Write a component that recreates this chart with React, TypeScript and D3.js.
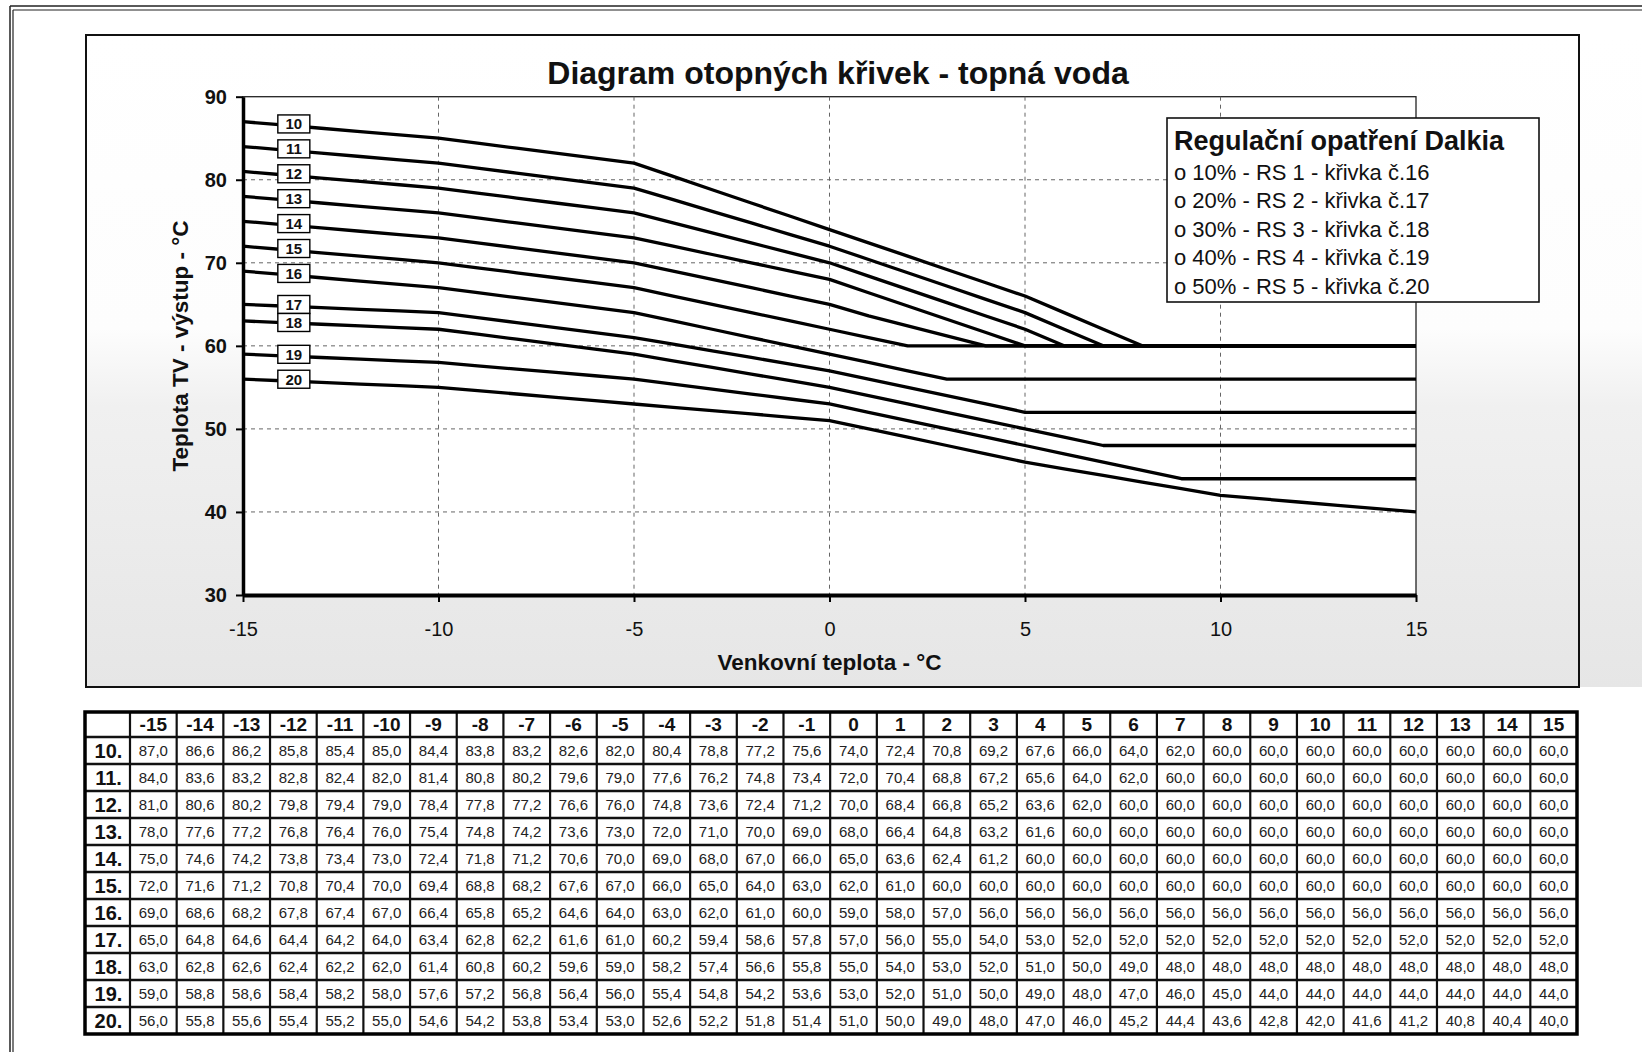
import { useRef, useEffect } from 'react';
import * as d3 from 'd3';

const W = 1642;
const H = 1052;
const FONT = '"Liberation Sans", Arial, Helvetica, sans-serif';

// ─── Data ─────────────────────────────────────────────────────────────────────
const TEMPS = [-15, -14, -13, -12, -11, -10, -9, -8, -7, -6, -5, -4, -3, -2, -1, 0, 1, 2, 3, 4, 5, 6, 7, 8, 9, 10, 11, 12, 13, 14, 15];
const CURVE_IDS = [10, 11, 12, 13, 14, 15, 16, 17, 18, 19, 20];

const CURVE_10 = [87.0, 86.6, 86.2, 85.8, 85.4, 85.0, 84.4, 83.8, 83.2, 82.6, 82.0, 80.4, 78.8, 77.2, 75.6, 74.0, 72.4, 70.8, 69.2, 67.6, 66.0, 64.0, 62.0, 60.0, 60.0, 60.0, 60.0, 60.0, 60.0, 60.0, 60.0];
const CURVE_11 = [84.0, 83.6, 83.2, 82.8, 82.4, 82.0, 81.4, 80.8, 80.2, 79.6, 79.0, 77.6, 76.2, 74.8, 73.4, 72.0, 70.4, 68.8, 67.2, 65.6, 64.0, 62.0, 60.0, 60.0, 60.0, 60.0, 60.0, 60.0, 60.0, 60.0, 60.0];
const CURVE_12 = [81.0, 80.6, 80.2, 79.8, 79.4, 79.0, 78.4, 77.8, 77.2, 76.6, 76.0, 74.8, 73.6, 72.4, 71.2, 70.0, 68.4, 66.8, 65.2, 63.6, 62.0, 60.0, 60.0, 60.0, 60.0, 60.0, 60.0, 60.0, 60.0, 60.0, 60.0];
const CURVE_13 = [78.0, 77.6, 77.2, 76.8, 76.4, 76.0, 75.4, 74.8, 74.2, 73.6, 73.0, 72.0, 71.0, 70.0, 69.0, 68.0, 66.4, 64.8, 63.2, 61.6, 60.0, 60.0, 60.0, 60.0, 60.0, 60.0, 60.0, 60.0, 60.0, 60.0, 60.0];
const CURVE_14 = [75.0, 74.6, 74.2, 73.8, 73.4, 73.0, 72.4, 71.8, 71.2, 70.6, 70.0, 69.0, 68.0, 67.0, 66.0, 65.0, 63.6, 62.4, 61.2, 60.0, 60.0, 60.0, 60.0, 60.0, 60.0, 60.0, 60.0, 60.0, 60.0, 60.0, 60.0];
const CURVE_15 = [72.0, 71.6, 71.2, 70.8, 70.4, 70.0, 69.4, 68.8, 68.2, 67.6, 67.0, 66.0, 65.0, 64.0, 63.0, 62.0, 61.0, 60.0, 60.0, 60.0, 60.0, 60.0, 60.0, 60.0, 60.0, 60.0, 60.0, 60.0, 60.0, 60.0, 60.0];
const CURVE_16 = [69.0, 68.6, 68.2, 67.8, 67.4, 67.0, 66.4, 65.8, 65.2, 64.6, 64.0, 63.0, 62.0, 61.0, 60.0, 59.0, 58.0, 57.0, 56.0, 56.0, 56.0, 56.0, 56.0, 56.0, 56.0, 56.0, 56.0, 56.0, 56.0, 56.0, 56.0];
const CURVE_17 = [65.0, 64.8, 64.6, 64.4, 64.2, 64.0, 63.4, 62.8, 62.2, 61.6, 61.0, 60.2, 59.4, 58.6, 57.8, 57.0, 56.0, 55.0, 54.0, 53.0, 52.0, 52.0, 52.0, 52.0, 52.0, 52.0, 52.0, 52.0, 52.0, 52.0, 52.0];
const CURVE_18 = [63.0, 62.8, 62.6, 62.4, 62.2, 62.0, 61.4, 60.8, 60.2, 59.6, 59.0, 58.2, 57.4, 56.6, 55.8, 55.0, 54.0, 53.0, 52.0, 51.0, 50.0, 49.0, 48.0, 48.0, 48.0, 48.0, 48.0, 48.0, 48.0, 48.0, 48.0];
const CURVE_19 = [59.0, 58.8, 58.6, 58.4, 58.2, 58.0, 57.6, 57.2, 56.8, 56.4, 56.0, 55.4, 54.8, 54.2, 53.6, 53.0, 52.0, 51.0, 50.0, 49.0, 48.0, 47.0, 46.0, 45.0, 44.0, 44.0, 44.0, 44.0, 44.0, 44.0, 44.0];
const CURVE_20 = [56.0, 55.8, 55.6, 55.4, 55.2, 55.0, 54.6, 54.2, 53.8, 53.4, 53.0, 52.6, 52.2, 51.8, 51.4, 51.0, 50.0, 49.0, 48.0, 47.0, 46.0, 45.2, 44.4, 43.6, 42.8, 42.0, 41.6, 41.2, 40.8, 40.4, 40.0];

const CURVES = [CURVE_10, CURVE_11, CURVE_12, CURVE_13, CURVE_14, CURVE_15, CURVE_16, CURVE_17, CURVE_18, CURVE_19, CURVE_20];

const X_TICKS = [-15, -10, -5, 0, 5, 10, 15];
const Y_TICKS = [30, 40, 50, 60, 70, 80, 90];

const TITLE = 'Diagram otopných křivek - topná voda';
const X_TITLE = 'Venkovní teplota - °C';
const Y_TITLE = 'Teplota TV - výstup - °C';
const LEGEND_TITLE = 'Regulační opatření Dalkia';
const LEGEND_ITEMS = [
  'o 10% - RS 1 - křivka č.16',
  'o 20% - RS 2 - křivka č.17',
  'o 30% - RS 3 - křivka č.18',
  'o 40% - RS 4 - křivka č.19',
  'o 50% - RS 5 - křivka č.20',
];

// Czech decimal comma, plain hyphen for negatives
const fmt = (v: number) => v.toFixed(1).replace('.', ',');
const intLabel = (v: d3.NumberValue) => String(v);

export default function App() {
  const ref = useRef<SVGSVGElement>(null);

  useEffect(() => {
    const svg = d3.select(ref.current);
    svg.selectAll('*').remove();
    svg.attr('width', W).attr('height', H).attr('viewBox', `0 0 ${W} ${H}`)
      .style('font-family', FONT);

    svg.append('rect').attr('width', W).attr('height', H).attr('fill', '#fff');

    // scan-like shading in the lower half of the chart sheet
    const defs = svg.append('defs');
    const grad = defs.append('linearGradient').attr('id', 'scan')
      .attr('x1', 0).attr('x2', 0).attr('y1', 0).attr('y2', 1);
    [['0%', '#ffffff'], ['45%', '#fdfdfd'], ['57%', '#f0f0f0'], ['100%', '#e6e6e6']]
      .forEach(([o, c]) => grad.append('stop').attr('offset', o).attr('stop-color', c));

    // ─── Page frame ─────────────────────────────────────────────────────────
    const frame = svg.append('g').attr('stroke', '#222').attr('fill', 'none');
    frame.append('line').attr('x1', 10).attr('x2', W).attr('y1', 6).attr('y2', 6).attr('stroke-width', 1.5);
    frame.append('line').attr('x1', 13).attr('x2', W).attr('y1', 10).attr('y2', 10).attr('stroke-width', 1.2);
    frame.append('line').attr('x1', 10).attr('x2', 10).attr('y1', 6).attr('y2', H).attr('stroke-width', 1.5);
    frame.append('line').attr('x1', 13).attr('x2', 13).attr('y1', 10).attr('y2', H).attr('stroke-width', 1.2);

    // ─── Chart sheet ────────────────────────────────────────────────────────
    const sheet = { x: 86, y: 35, w: 1493, h: 652 };
    svg.append('rect').attr('x', sheet.x + sheet.w).attr('y', sheet.y)
      .attr('width', W - sheet.x - sheet.w).attr('height', sheet.h).attr('fill', 'url(#scan)');
    svg.append('rect').attr('x', sheet.x).attr('y', sheet.y).attr('width', sheet.w).attr('height', sheet.h)
      .attr('fill', 'url(#scan)').attr('stroke', '#111').attr('stroke-width', 2);

    const x = d3.scaleLinear().domain([-15, 15]).range([243, 1416]);
    const y = d3.scaleLinear().domain([30, 90]).range([595, 96.7]);

    // plot area
    svg.append('rect').attr('x', x(-15)).attr('y', y(90))
      .attr('width', x(15) - x(-15)).attr('height', y(30) - y(90))
      .attr('fill', '#fff').attr('stroke', '#222').attr('stroke-width', 1.3);

    // Gridlines
    const grid = svg.append('g').attr('stroke', '#666').attr('stroke-width', 1).attr('stroke-dasharray', '4,4');
    grid.selectAll('line.v').data(X_TICKS.slice(1, -1)).join('line').attr('class', 'v')
      .attr('x1', d => x(d)).attr('x2', d => x(d)).attr('y1', y(90)).attr('y2', y(30));
    grid.selectAll('line.h').data(Y_TICKS.slice(1, -1)).join('line').attr('class', 'h')
      .attr('x1', x(-15)).attr('x2', x(15)).attr('y1', d => y(d)).attr('y2', d => y(d));

    // Curves
    const line = d3.line<number>().x((_d, i) => x(TEMPS[i])).y(d => y(d));
    svg.append('g').selectAll('path').data(CURVES).join('path')
      .attr('d', d => line(d))
      .attr('fill', 'none').attr('stroke', '#000').attr('stroke-width', 3.3)
      .attr('stroke-linejoin', 'round');

    // Curve labels (boxes placed on each curve near the left edge)
    const labelT = -13.7;
    const bw = 32, bh = 18;
    let prevBottom = -Infinity;
    const labels = CURVE_IDS.map((id, i) => {
      const v = d3.scaleLinear().domain(TEMPS).range(CURVES[i])(labelT);
      let cy = y(v) - 2;
      if (cy - bh / 2 < prevBottom) cy = prevBottom + bh / 2;
      prevBottom = cy + bh / 2;
      return { id, cy };
    });
    const lg = svg.append('g').selectAll('g').data(labels).join('g')
      .attr('transform', d => `translate(${x(labelT)},${d.cy})`);
    lg.append('rect').attr('x', -bw / 2).attr('y', -bh / 2).attr('width', bw).attr('height', bh)
      .attr('fill', '#fff').attr('stroke', '#000').attr('stroke-width', 1.4);
    lg.append('text').attr('text-anchor', 'middle').attr('dy', '0.36em')
      .attr('font-size', 15).attr('font-weight', 700).attr('fill', '#111')
      .text(d => d.id);

    // X axis
    svg.append('g').attr('transform', `translate(0,${y(30)})`)
      .call(d3.axisBottom(x).tickValues(X_TICKS).tickSize(7).tickSizeOuter(0).tickPadding(20).tickFormat(intLabel))
      .call(g => g.select('.domain').attr('stroke', '#000').attr('stroke-width', 4))
      .call(g => g.selectAll('.tick line').attr('stroke', '#000').attr('stroke-width', 2))
      .call(g => g.selectAll('.tick text').attr('font-family', FONT).attr('font-size', 20).attr('fill', '#111'));

    // Y axis
    svg.append('g').attr('transform', `translate(${x(-15)},0)`)
      .call(d3.axisLeft(y).tickValues(Y_TICKS).tickSize(7).tickSizeOuter(0).tickPadding(9).tickFormat(intLabel))
      .call(g => g.select('.domain').attr('stroke', '#000').attr('stroke-width', 3.5))
      .call(g => g.selectAll('.tick line').attr('stroke', '#000').attr('stroke-width', 2))
      .call(g => g.selectAll('.tick text').attr('font-family', FONT).attr('font-size', 20)
        .attr('font-weight', 700).attr('fill', '#111'));

    // Titles
    svg.append('text').attr('x', 838).attr('y', 84).attr('text-anchor', 'middle')
      .attr('font-size', 32).attr('font-weight', 700).attr('fill', '#111').text(TITLE);
    svg.append('text').attr('x', (x(-15) + x(15)) / 2).attr('y', 670).attr('text-anchor', 'middle')
      .attr('font-size', 22.5).attr('font-weight', 700).attr('fill', '#111').text(X_TITLE);
    svg.append('text').attr('transform', 'translate(188,346) rotate(-90)').attr('text-anchor', 'middle')
      .attr('font-size', 22.5).attr('font-weight', 700).attr('fill', '#111').text(Y_TITLE);

    // Legend
    const leg = svg.append('g');
    leg.append('rect').attr('x', 1167).attr('y', 118).attr('width', 372).attr('height', 184)
      .attr('fill', '#fff').attr('stroke', '#111').attr('stroke-width', 1.6);
    leg.append('text').attr('x', 1174).attr('y', 150).attr('font-size', 27).attr('font-weight', 700)
      .attr('fill', '#111').text(LEGEND_TITLE);
    leg.selectAll('text.item').data(LEGEND_ITEMS).join('text').attr('class', 'item')
      .attr('x', 1174).attr('y', (_d, i) => 180 + i * 28.4)
      .attr('font-size', 22).attr('fill', '#111').text(d => d);

    // ─── Table ──────────────────────────────────────────────────────────────
    const t = { x0: 85, x1: 1577, y0: 712, head: 737, y1: 1034, label: 130 };
    const col = d3.scaleBand<number>().domain(TEMPS).range([t.label, t.x1]);
    const row = d3.scaleBand<number>().domain(CURVE_IDS).range([t.head, t.y1]);
    const tg = svg.append('g');
    tg.append('rect').attr('x', t.x0).attr('y', t.y0).attr('width', t.x1 - t.x0).attr('height', t.y1 - t.y0)
      .attr('fill', '#fff');

    // grid lines of the table
    tg.selectAll('line.tv').data(TEMPS).join('line').attr('class', 'tv')
      .attr('x1', d => col(d)!).attr('x2', d => col(d)!).attr('y1', t.y0).attr('y2', t.y1)
      .attr('stroke', '#111').attr('stroke-width', 2.2);
    tg.selectAll('line.th').data(CURVE_IDS).join('line').attr('class', 'th')
      .attr('x1', t.x0).attr('x2', t.x1).attr('y1', d => row(d)!).attr('y2', d => row(d)!)
      .attr('stroke', '#111').attr('stroke-width', 2.4);
    tg.append('rect').attr('x', t.x0).attr('y', t.y0).attr('width', t.x1 - t.x0).attr('height', t.y1 - t.y0)
      .attr('fill', 'none').attr('stroke', '#000').attr('stroke-width', 3.5);

    // header
    tg.selectAll('text.hd').data(TEMPS).join('text').attr('class', 'hd')
      .attr('x', d => col(d)! + col.bandwidth() / 2).attr('y', (t.y0 + t.head) / 2).attr('dy', '0.36em')
      .attr('text-anchor', 'middle').attr('font-size', 19).attr('font-weight', 700).attr('fill', '#111')
      .text(d => d);

    // row labels
    tg.selectAll('text.rl').data(CURVE_IDS).join('text').attr('class', 'rl')
      .attr('x', (t.x0 + t.label) / 2 + 1).attr('y', d => row(d)! + row.bandwidth() / 2).attr('dy', '0.36em')
      .attr('text-anchor', 'middle').attr('font-size', 20).attr('font-weight', 700).attr('fill', '#111')
      .text(d => `${d}.`);

    // values
    tg.selectAll('g.vr').data(CURVE_IDS).join('g').attr('class', 'vr')
      .each(function (id, i) {
        d3.select(this).selectAll('text').data(CURVES[i]).join('text')
          .attr('x', (_v, j) => col(TEMPS[j])! + col.bandwidth() / 2)
          .attr('y', row(id)! + row.bandwidth() / 2).attr('dy', '0.36em')
          .attr('text-anchor', 'middle').attr('font-size', 15).attr('fill', '#222')
          .text(v => fmt(v));
      });
  }, []);

  return <svg ref={ref} style={{ position: 'absolute', left: 0, top: 0, display: 'block' }} />;
}
